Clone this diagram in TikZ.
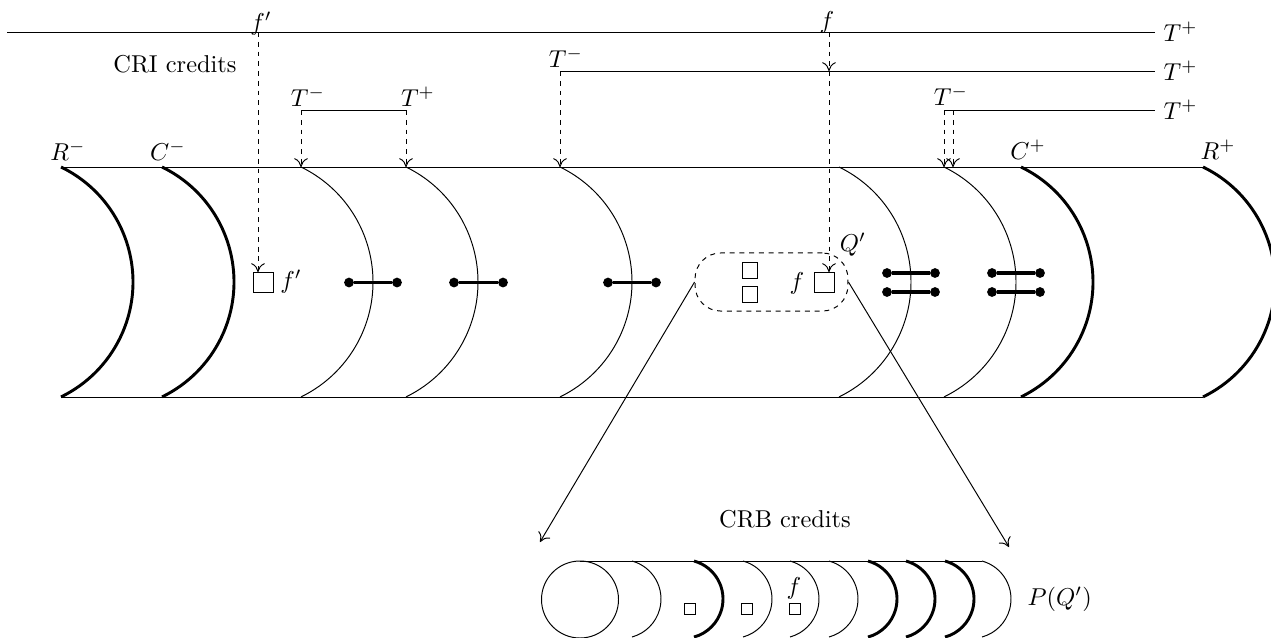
\documentclass[tikz,border=0pt]{standalone}
\usetikzlibrary{arrows.meta}
\begin{document}
\begin{tikzpicture}[x=0.41pt,y=0.41pt,
  >={To[length=3.6pt,width=5.6pt]},
  thinarc/.style={line width=0.4pt},
  thickarc/.style={line width=1.2pt},
  dasharrow/.style={dash pattern=on 2pt off 2pt,->},
  bar/.style={line width=1.4pt},
  dot/.style={circle,fill,inner sep=0pt,minimum size=4pt},
  sq/.style={draw,rectangle,inner sep=0pt,minimum size=8.2pt},
  smallsq/.style={draw,rectangle,inner sep=0pt,minimum size=6.5pt},
  tinysq/.style={draw,rectangle,inner sep=0pt,minimum size=4.4pt},
  lab/.style={inner sep=0pt},
  rlab/.style={anchor=west}
]
\useasboundingbox (0,0) rectangle (1271,-637);

% ---- top lines ----
\coordinate (l1a) at (7,-32);
\coordinate (l1b) at (1155,-32);
\draw (l1a) -- (l1b);
\node[rlab] (tp1) at (l1b) {$T^+$};

\coordinate (l2a) at (560,-71);
\coordinate (l2b) at (1155,-71);
\draw (l2a) -- (l2b);
\node[rlab] (tp2) at (l2b) {$T^+$};
\node[lab] (tm2) at (566,-58) {$T^-$};

\coordinate (l3a) at (944,-110);
\coordinate (l3b) at (1155,-110);
\draw (l3a) -- (l3b);
\node[rlab] (tp3) at (l3b) {$T^+$};
\node[lab] (tm3) at (951,-96) {$T^-$};
\coordinate (l3c) at (953,-110);

\coordinate (ba) at (301,-110);
\coordinate (bb) at (406,-110);
\draw (ba) -- (bb);
\node[lab] (tmb) at (308,-97) {$T^-$};
\node[lab] (tpb) at (418,-97) {$T^+$};

\node[lab] (cri) at (175,-64) {CRI credits};

% ---- tube ----
\coordinate (tl) at (61,-167);
\coordinate (tr) at (1203,-167);
\coordinate (bl) at (61,-397);
\coordinate (br) at (1203,-397);
\draw (tl) -- (tr);
\draw (bl) -- (br);
\foreach \x in {301,406,560,839,944}
  \draw[thinarc] (\x,-167) arc[start angle=64.1,end angle=-64.1,radius=127.8];
\foreach \x in {61,162,1021,1203}
  \draw[thickarc] (\x,-167) arc[start angle=64.1,end angle=-64.1,radius=127.8];

\node[lab] (rm) at (68,-151) {$R^-$};
\node[lab] (cm) at (168,-151) {$C^-$};
\node[lab] (cp) at (1028,-150) {$C^+$};
\node[lab] (rp) at (1218,-150) {$R^+$};

% dashed arrows from bracket lines to tube
\coordinate (t1) at (301,-167);
\coordinate (t2) at (406,-167);
\coordinate (t3) at (560,-167);
\coordinate (t4) at (944,-167);
\coordinate (t5) at (953,-167);
\draw[dasharrow] (ba) -- (t1);
\draw[dasharrow] (bb) -- (t2);
\draw[dasharrow] (l2a) -- (t3);
\draw[dasharrow] (l3a) -- (t4);
\draw[dasharrow] (l3c) -- (t5);

% ---- f' ----
\coordinate (fpt) at (258,-32);
\node[lab] (fplab) at (261,-24) {$f'$};
\node[sq] (bfp) at (263,-282.5) {};
\node[lab] (fpr) at (291,-282) {$f'$};
\draw[dasharrow] (fpt) -- (fpt |- bfp.north);

% ---- dumbbells ----
\foreach \a/\b/\y [count=\i] in {349/397/282.5,454/503/282.5,608/656/282.5,
                                 887/935/273,887/935/292,992/1040/273,992/1040/292}{
  \node[dot] (da\i) at (\a,-\y) {};
  \node[dot] (db\i) at (\b,-\y) {};
  \draw[bar] (da\i) -- (db\i);
}

% ---- Q' ----
\node[draw,dash pattern=on 2pt off 2pt,rounded corners=10.5pt,
      minimum width=62.7pt,minimum height=23.8pt,inner sep=0pt] (Q) at (771.5,-282) {};
\node[smallsq] (q1) at (750,-270.5) {};
\node[smallsq] (q2) at (750,-294.5) {};
\node[sq] (bf) at (824,-282.5) {};
\node[lab] (flab) at (797,-283) {$f$};
\node[lab] (Qlab) at (853,-245) {$Q'$};

\coordinate (ft) at (829,-32);
\coordinate (fm) at (829,-71);
\node[lab] (ftlab) at (827,-22) {$f$};
\draw[dasharrow] (ft) -- (fm);
\draw[dasharrow] (fm) -- (fm |- bf.north);

% ---- connectors to P(Q') ----
\coordinate (cl) at (540,-542);
\coordinate (cr) at (1009,-547);
\draw[->] (Q.west) -- (cl);
\draw[->] (Q.east) -- (cr);
\node[lab] (crb) at (785,-519) {CRB credits};

% ---- P(Q') ----
\coordinate (pt1) at (580,-561);
\coordinate (pt2) at (982,-561);
\draw (pt1) -- (pt2);
\draw (580,-599.5) circle[radius=38.5];
\foreach \x in {632,743,790,829,982}
  \draw[thinarc] (\x,-561) arc[start angle=74.7,end angle=-74.7,radius=39.4];
\foreach \x in {694,868,906,945}
  \draw[thickarc] (\x,-561) arc[start angle=74.7,end angle=-74.7,radius=39.4];
\node[tinysq] (p1) at (690,-609) {};
\node[tinysq] (p2) at (747,-609) {};
\node[tinysq] (p3) at (795,-609) {};
\node[lab] (pf) at (794,-588) {$f$};
\node[anchor=west] (PQ) at (1019,-599) {$P(Q')$};
\end{tikzpicture}
\end{document}
